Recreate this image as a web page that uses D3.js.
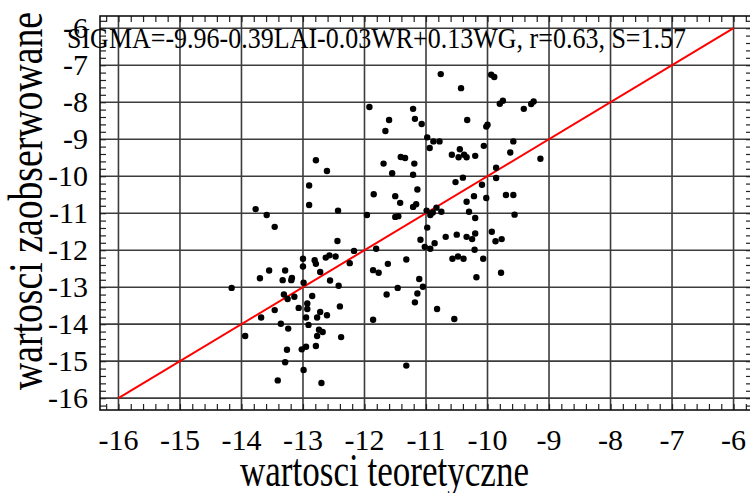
<!DOCTYPE html>
<html>
<head>
<meta charset="utf-8">
<script src="https://cdn.jsdelivr.net/npm/d3@7"></script>
<style>
  body { margin: 0; background: #fff; }
  text { font-family: "Liberation Serif", "Times New Roman", serif; fill: #000; }
</style>
</head>
<body>
<script>
// wartosci teoretyczne (x) and wartosci zaobserwowane (y)
const teoretyczne = [
  -11.92,-12.79,-12.61,-12.90,-11.85,-12.90,-13.77,-13.59,-12.43,-11.96,
  -13.46,-12.44,-11.81,-12.17,-13.00,-12.81,-12.79,-12.63,-12.57,-12.47,
  -12.24,-13.00,-13.55,-13.29,-12.72,-11.86,-11.77,-13.70,-13.33,-13.19,
  -13.18,-12.56,-12.99,-12.42,-14.16,-13.31,-13.14,-13.25,-12.85,-12.93,
  -13.07,-12.93,-12.40,-13.46,-12.72,-12.61,-13.68,-12.95,-12.77,-11.86,
  -13.36,-12.91,-13.24,-12.74,-12.68,-13.94,-12.77,-12.38,-12.79,-12.95,
  -13.02,-13.26,-13.29,-12.99,-13.41,-12.70,
  -10.76,-9.94,-9.89,-10.43,-9.80,-9.75,-9.41,-9.29,-9.25,-11.21,
  -11.60,-11.18,-11.07,-11.66,-10.33,-10.02,-10.00,-10.98,-10.88,-10.78,
  -10.94,-9.58,-10.06,-9.63,-10.45,-10.58,-10.47,-10.38,-10.34,-10.20,
  -11.41,-11.34,-11.19,-11.69,-9.14,-11.55,-11.21,-9.86,-10.40,-9.86,
  -10.52,-10.09,-11.14,-11.50,-11.42,-11.21,-11.16,-10.22,-10.34,-10.02,
  -9.70,-9.58,-10.99,-10.93,-10.89,-10.83,-10.75,-10.30,-10.20,-9.56,
  -11.50,-11.45,-10.98,
  -11.09,-11.02,-10.93,-10.86,-10.68,-10.50,-10.34,-10.25,-10.20,-9.93,
  -9.87,-9.77,-10.21,-10.57,-10.48,-10.39,-10.07,-11.32,-11.62,-10.18,
  -9.78,-11.11,-11.05,-11.46,-11.64,-11.14,-11.18,-10.82,-10.54,-11.32
];
const zaobserwowane = [
  -8.13,-9.57,-9.86,-10.25,-10.49,-10.78,-10.89,-11.05,-10.93,-11.05,
  -11.37,-11.75,-11.96,-12.02,-12.23,-12.27,-12.37,-12.20,-12.14,-12.17,
  -12.35,-12.44,-12.55,-12.55,-12.59,-12.54,-12.61,-12.76,-12.81,-12.81,
  -12.75,-12.82,-12.88,-12.96,-13.02,-13.20,-13.26,-13.32,-13.24,-13.44,
  -13.56,-13.59,-13.52,-13.62,-13.67,-13.76,-13.82,-13.82,-13.82,-13.88,
  -13.99,-14.02,-14.12,-14.15,-14.21,-14.32,-14.32,-14.35,-14.59,-14.61,
  -14.68,-14.69,-15.03,-15.24,-15.52,-15.59,
  -7.24,-7.26,-7.32,-7.62,-8.04,-7.96,-8.18,-8.05,-7.98,-8.18,
  -8.48,-8.45,-8.59,-8.78,-8.48,-8.66,-8.61,-8.95,-9.06,-9.06,
  -9.24,-9.06,-9.18,-9.36,-9.27,-9.42,-9.49,-9.42,-9.49,-9.45,
  -9.48,-9.51,-9.66,-9.66,-9.53,-9.92,-9.96,-9.77,-10.04,-10.05,
  -10.16,-10.23,-10.36,-10.54,-10.72,-10.83,-10.76,-10.54,-10.69,-10.59,
  -10.51,-10.51,-10.93,-11.05,-10.98,-10.85,-10.96,-10.96,-11.13,-11.04,
  -11.10,-11.08,-11.39,
  -11.72,-11.91,-11.96,-11.81,-11.64,-11.58,-11.64,-11.70,-11.55,-11.50,
  -11.76,-11.70,-11.99,-12.23,-12.17,-12.23,-12.23,-12.25,-12.37,-12.73,
  -12.61,-12.78,-12.99,-13.02,-13.20,-13.17,-13.41,-13.59,-13.86,-15.12
];
const xTicks = [-16, -15, -14, -13, -12, -11, -10, -9, -8, -7, -6];
const yTicks = [-16, -15, -14, -13, -12, -11, -10, -9, -8, -7, -6];
const fitLine = [[-16, -16], [-6, -6]];
const title = "SIGMA=-9.96-0.39LAI-0.03WR+0.13WG, r=0.63, S=1.57";

let points = teoretyczne.map((d, i) => ({ x: d, y: zaobserwowane[i] }));

let plot = { left: 100, top: 16, right: 752, bottom: 410 };

let x = d3.scaleLinear().domain([-16.3, -5.7]).range([plot.left, plot.right]);
let y = d3.scaleLinear().domain([-16.32, -5.67]).range([plot.bottom, plot.top]);

let minorX = d3.range(-16.2, -5.69, 0.2).map(v => +v.toFixed(1));
let minorY = d3.range(-16.2, -5.69, 0.2).map(v => +v.toFixed(1));

let svg = d3.select("body")
  .append("svg")
  .attr("width", 750)
  .attr("height", 493);

// gridlines
svg.append("g")
  .attr("class", "grid")
  .selectAll("line")
  .data(xTicks)
  .enter()
  .append("line")
  .attr("x1", d => x(d)).attr("x2", d => x(d))
  .attr("y1", plot.top).attr("y2", plot.bottom);

svg.append("g")
  .attr("class", "grid")
  .selectAll("line")
  .data(yTicks)
  .enter()
  .append("line")
  .attr("y1", d => y(d)).attr("y2", d => y(d))
  .attr("x1", plot.left).attr("x2", plot.right);

svg.selectAll(".grid line")
  .attr("stroke", "#3c3c3c")
  .attr("stroke-width", 1.6);

// minor ticks on all four sides, pointing inward
svg.append("g")
  .attr("transform", "translate(0," + plot.bottom + ")")
  .call(d3.axisBottom(x).tickValues(minorX).tickSize(-6).tickFormat(""));
svg.append("g")
  .attr("transform", "translate(0," + plot.top + ")")
  .call(d3.axisTop(x).tickValues(minorX).tickSize(-6).tickFormat(""));
svg.append("g")
  .attr("transform", "translate(" + plot.left + ",0)")
  .call(d3.axisLeft(y).tickValues(minorY).tickSize(-6).tickFormat(""));
svg.append("g")
  .attr("transform", "translate(" + plot.right + ",0)")
  .call(d3.axisRight(y).tickValues(minorY).tickSize(-6).tickFormat(""));

svg.selectAll(".domain").remove();
svg.selectAll(".tick line").attr("stroke", "#222").attr("stroke-width", 1.2);

// frame
svg.append("rect")
  .attr("x", plot.left)
  .attr("y", plot.top)
  .attr("width", plot.right - plot.left)
  .attr("height", plot.bottom - plot.top)
  .attr("fill", "none")
  .attr("stroke", "#111")
  .attr("stroke-width", 1.6);

// tick labels
svg.append("g")
  .selectAll("text")
  .data(xTicks)
  .enter()
  .append("text")
  .attr("x", d => x(d))
  .attr("y", 450)
  .attr("text-anchor", "middle")
  .style("font-size", "30px")
  .text(d => d);

svg.append("g")
  .selectAll("text")
  .data(yTicks)
  .enter()
  .append("text")
  .attr("x", 88)
  .attr("y", d => y(d) + 10)
  .attr("text-anchor", "end")
  .style("font-size", "30px")
  .text(d => d);

// y = x line
svg.append("path")
  .datum(fitLine)
  .attr("fill", "none")
  .attr("stroke", "#ff0000")
  .attr("stroke-width", 2)
  .attr("d", d3.line().x(d => x(d[0])).y(d => y(d[1])));

// points
svg.append("g")
  .selectAll("circle")
  .data(points)
  .enter()
  .append("circle")
  .attr("cx", d => x(d.x))
  .attr("cy", d => y(d.y))
  .attr("r", 3.2)
  .attr("fill", "#000");

// title inside the plot
svg.append("text")
  .attr("x", 67)
  .attr("y", 48)
  .attr("textLength", 619)
  .attr("lengthAdjust", "spacingAndGlyphs")
  .style("font-size", "30px")
  .text(title);

// axis titles
svg.append("text")
  .attr("x", 240)
  .attr("y", 486)
  .attr("textLength", 289)
  .attr("lengthAdjust", "spacingAndGlyphs")
  .style("font-size", "46px")
  .text("wartosci teoretyczne");

svg.append("text")
  .attr("transform", "translate(42,390) rotate(-90)")
  .attr("textLength", 378)
  .attr("lengthAdjust", "spacingAndGlyphs")
  .style("font-size", "48px")
  .text("wartosci zaobserwowane");
</script>
</body>
</html>
